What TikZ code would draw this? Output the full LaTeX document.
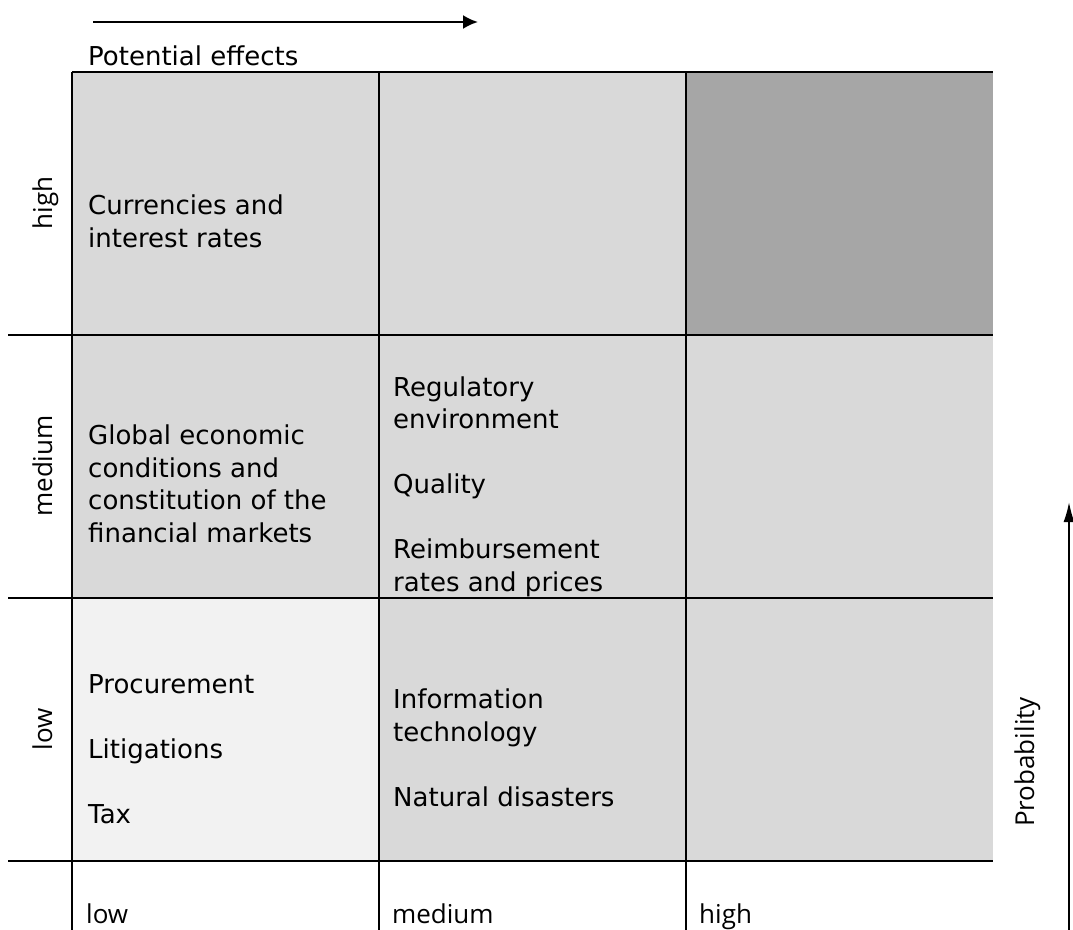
\documentclass[tikz,border=0pt]{standalone}
\usepackage{fontspec}
\setmainfont{DejaVu Sans}
\newfontfamily\axisfont{Open Sans}
\usepackage{xcolor}
\usetikzlibrary{positioning,arrows.meta}
\definecolor{midGray}{HTML}{D9D9D9}
\definecolor{paleGray}{HTML}{F2F2F2}
\definecolor{darkGray}{HTML}{A6A6A6}
\tikzstyle{cellBox}  =[rectangle, inner sep=0pt, outer sep=0pt, minimum width=307pt, minimum height=263pt]
\tikzstyle{gridLine} =[line width=2.8pt]
\tikzstyle{cellText} =[anchor=base west, inner sep=0pt, align=left, font=\fontsize{26}{32.5}\selectfont]
\tikzstyle{axisText} =[inner sep=0pt, font=\axisfont\fontsize{26}{32}\selectfont]

\begin{document}
\begin{tikzpicture}[x=1pt, y=-1pt, >={Latex[length=15pt, width=14pt]}]
      \useasboundingbox (0,0) rectangle (1073,929);
      % cells of the matrix
      \node[cellBox, fill=midGray, anchor=north west] (c11) at (72,72) {};
      \node[cellBox, fill=midGray] (c12) [right=0pt of c11] {};
      \node[cellBox, fill=darkGray] (c13) [right=0pt of c12] {};
      \node[cellBox, fill=midGray] (c21) [below=0pt of c11] {};
      \node[cellBox, fill=midGray] (c22) [below=0pt of c12] {};
      \node[cellBox, fill=midGray] (c23) [below=0pt of c13] {};
      \node[cellBox, fill=paleGray] (c31) [below=0pt of c21] {};
      \node[cellBox, fill=midGray] (c32) [below=0pt of c22] {};
      \node[cellBox, fill=midGray] (c33) [below=0pt of c23] {};
      \coordinate (leftEnd) at (8,0);
      \coordinate (botEnd) at (0,935);
      % grid
      \draw[gridLine] (c11.north west) -- (c13.north east);
      \draw[gridLine] (leftEnd |- c11.south west) -- (c13.south east);
      \draw[gridLine] (leftEnd |- c21.south west) -- (c23.south east);
      \draw[gridLine] (leftEnd |- c31.south west) -- (c33.south east);
      \draw[gridLine] (c11.north west) -- (c11.north west |- botEnd);
      \draw[gridLine] (c12.north west) -- (c12.north west |- botEnd);
      \draw[gridLine] (c13.north west) -- (c13.north west |- botEnd);
      % axes
      \coordinate (effStart) at (93,22);
      \coordinate (effEnd) at (478,22);
      \draw[->, line width=2.2pt] (effStart) -- (effEnd);
      \node[cellText] (effLabel) at (88,65) {Potential effects};
      \coordinate (probStart) at (1069,935);
      \coordinate (probEnd) at (1069,502);
      \draw[->, line width=1.8pt, >={Latex[length=20pt, width=11pt]}] (probStart) -- (probEnd);
      \node[axisText, anchor=base, rotate=90] (probLabel) at (1034,762) {Probability};
      \node[axisText, anchor=base, rotate=90] (rowHigh) at (52,203) {high};
      \node[axisText, anchor=base, rotate=90] (rowMed) at (52,466) {medium};
      \node[axisText, anchor=base, rotate=90] (rowLow) at (52,729) {low};
      \node[axisText, anchor=base west] (colLow) at (86,923) {low};
      \node[axisText, anchor=base west] (colMed) at (392,923) {medium};
      \node[axisText, anchor=base west] (colHigh) at (699,923) {high};
      % risks (base = last line)
      \node[cellText] (currency) at (88,247) {Currencies and\\interest rates};
      \node[cellText] (economy) at (88,542) {Global economic\\conditions and\\constitution of the\\financial markets};
      \node[cellText] (regulation) at (393,591) {Regulatory\\environment\\[32.5pt]Quality\\[32.5pt]Reimbursement\\rates and prices};
      \node[cellText] (procurement) at (88,823) {Procurement\\[32.5pt]Litigations\\[32.5pt]Tax};
      \node[cellText] (itech) at (393,806) {Information\\technology\\[32.5pt]Natural disasters};
    \end{tikzpicture}
\end{document}
